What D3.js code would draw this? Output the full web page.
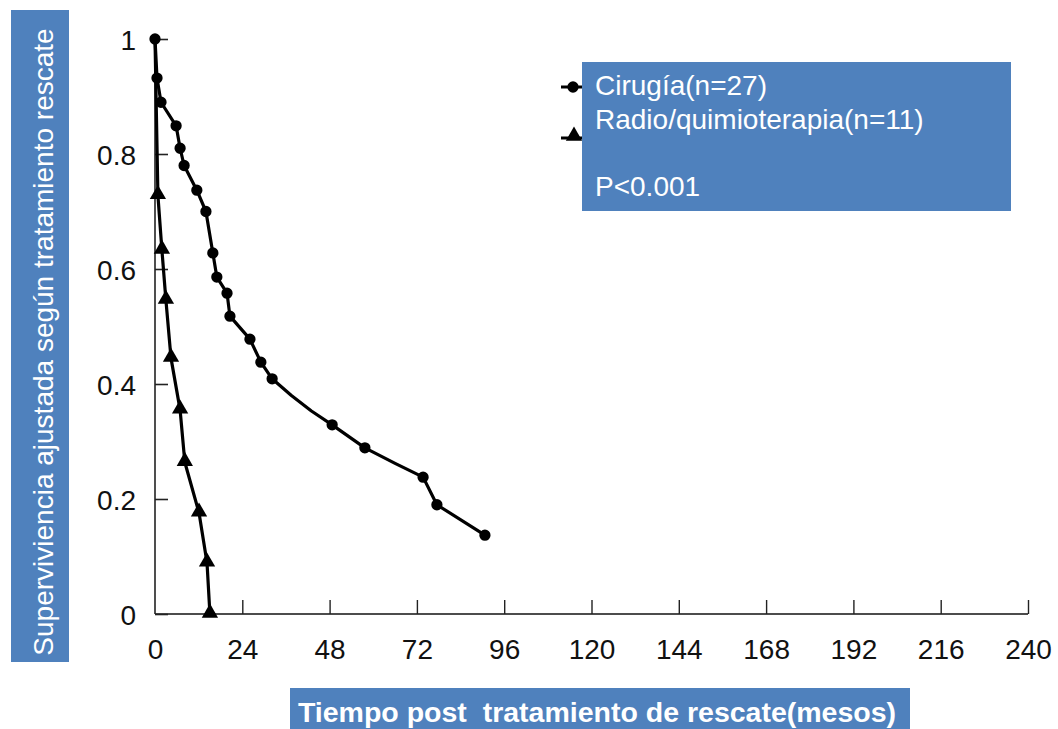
<!DOCTYPE html>
<html>
<head>
<meta charset="utf-8">
<script src="https://cdn.jsdelivr.net/npm/d3@7"></script>
<style>
  html, body { margin: 0; padding: 0; background: #fff; }
  svg { display: block; }
</style>
</head>
<body>
<svg id="chart" width="1058" height="729"></svg>
<script>
// Kaplan-Meier style survival curves after salvage treatment
const xTicks = [0, 24, 48, 72, 96, 120, 144, 168, 192, 216, 240];
const yTicks = [0, 0.2, 0.4, 0.6, 0.8, 1];
const yTickLabels = ["0", "0.2", "0.4", "0.6", "0.8", "1"];

// Cirugía: months, survival, marker shown
const cirugiaTime = [0, 0.55, 1.65, 5.8, 6.9, 8.0, 11.5, 14.0, 15.9, 17.0, 19.8, 20.6, 26.1, 29.1, 32.2, 37.5, 43.0, 48.7, 57.7, 66.0, 73.7, 77.5, 90.7];
const cirugiaSurv = [1, 0.932, 0.89, 0.849, 0.81, 0.78, 0.737, 0.70, 0.628, 0.586, 0.558, 0.518, 0.478, 0.438, 0.409, 0.38, 0.353, 0.329, 0.289, 0.262, 0.238, 0.19, 0.137];
const cirugiaMark = [1, 1, 1, 1, 1, 1, 1, 1, 1, 1, 1, 1, 1, 1, 1, 0, 0, 1, 1, 0, 1, 1, 1];

// Radio/quimioterapia
const radioTime = [0, 0.8, 1.9, 3.0, 4.4, 6.9, 8.2, 12.1, 14.3, 15.1];
const radioSurv = [1, 0.728, 0.633, 0.546, 0.445, 0.355, 0.264, 0.176, 0.089, 0];
const radioMark = [0, 1, 1, 1, 1, 1, 1, 1, 1, 1];

const legendLabels = ["Cirugía(n=27)", "Radio/quimioterapia(n=11)", "", "P<0.001"];
const yTitle = "Superviviencia ajustada según tratamiento rescate";
const xTitle = "Tiempo post  tratamiento de rescate(mesos)";

const blue = "#4f81bd";
const svg = d3.select("#chart");

const x = d3.scaleLinear().domain([0, 240]).range([155, 1028]);
const y = d3.scaleLinear().domain([0, 1]).range([614, 39]);

const axisFont = "'Liberation Sans', Arial, sans-serif";

// Axes frame
const g = svg.append("g");
g.append("line").attr("x1", x(0)).attr("x2", x(240)).attr("y1", y(0)).attr("y2", y(0))
  .attr("stroke", "#111").attr("stroke-width", 1.6);
g.append("line").attr("x1", x(0)).attr("x2", x(0)).attr("y1", y(0)).attr("y2", y(1))
  .attr("stroke", "#222").attr("stroke-width", 1.6);

// x ticks (pointing up into plot)
const xAxis = d3.axisBottom(x).tickValues(xTicks).tickSize(0).tickFormat(d3.format("d"));
const xg = svg.append("g").attr("transform", `translate(0,${y(0)})`).call(xAxis);
xg.select(".domain").remove();
xg.selectAll("text").attr("dy", 0).attr("y", 45)
  .attr("font-family", axisFont).attr("font-size", 28).attr("fill", "#111");
xg.selectAll(".tick").filter(d => d > 0).append("line")
  .attr("y1", 0).attr("y2", -14).attr("stroke", "#222").attr("stroke-width", 1.4);

// y ticks (pointing right into plot)
const yAxis = d3.axisLeft(y).tickValues(yTicks).tickSize(0)
  .tickFormat((d, i) => yTickLabels[i]);
const yg = svg.append("g").attr("transform", `translate(${x(0)},0)`).call(yAxis);
yg.select(".domain").remove();
yg.selectAll("text").attr("x", -19).attr("dy", "0.36em")
  .attr("font-family", axisFont).attr("font-size", 28).attr("fill", "#111");
yg.selectAll(".tick").append("line")
  .attr("x1", 0).attr("x2", 13).attr("stroke", "#222").attr("stroke-width", 1.6);

// Curves
const line = d3.line().x(d => x(d[0])).y(d => y(d[1]));
const cirugia = cirugiaTime.map((t, i) => [t, cirugiaSurv[i], cirugiaMark[i]]);
const radio = radioTime.map((t, i) => [t, radioSurv[i], radioMark[i]]);

svg.append("path").datum(cirugia).attr("d", line)
  .attr("fill", "none").attr("stroke", "#000").attr("stroke-width", 3.2).attr("stroke-linejoin", "round");
svg.append("path").datum(radio).attr("d", line)
  .attr("fill", "none").attr("stroke", "#000").attr("stroke-width", 3.2).attr("stroke-linejoin", "round");

const circle = d3.symbol().type(d3.symbolCircle).size(100);
const tri = d3.symbol().type(d3.symbolTriangle).size(115);

svg.append("g").selectAll("path").data(cirugia.filter(d => d[2])).join("path")
  .attr("d", circle).attr("transform", d => `translate(${x(d[0])},${y(d[1])})`).attr("fill", "#000");
svg.append("g").selectAll("path").data(radio.filter(d => d[2])).join("path")
  .attr("d", tri).attr("transform", d => `translate(${x(d[0])},${y(d[1]) - 1})`).attr("fill", "#000");

// Legend glyphs (partially covered by the legend box)
svg.append("line").attr("x1", 561).attr("x2", 585).attr("y1", 87).attr("y2", 87)
  .attr("stroke", "#000").attr("stroke-width", 3);
svg.append("path").attr("d", circle).attr("transform", "translate(573,87)").attr("fill", "#000");
svg.append("line").attr("x1", 561).attr("x2", 585).attr("y1", 138).attr("y2", 138)
  .attr("stroke", "#000").attr("stroke-width", 3);
svg.append("path").attr("d", tri).attr("transform", "translate(574,136)").attr("fill", "#000");

// Legend box
svg.append("rect").attr("x", 582).attr("y", 62).attr("width", 429).attr("height", 149).attr("fill", blue);
svg.append("g").selectAll("text").data(legendLabels).join("text")
  .attr("x", 595).attr("y", (d, i) => 95 + i * 33.7)
  .attr("font-family", axisFont).attr("font-size", 28).attr("fill", "#fff")
  .text(d => d);

// y-axis title box
svg.append("rect").attr("x", 11).attr("y", 10).attr("width", 58).attr("height", 652).attr("fill", blue);
svg.append("text").attr("transform", "translate(53,342) rotate(-90)")
  .attr("text-anchor", "middle").attr("font-family", axisFont).attr("font-size", 28)
  .attr("fill", "#fff").text(yTitle);

// x-axis title box
svg.append("rect").attr("x", 290).attr("y", 688).attr("width", 620).attr("height", 41).attr("fill", blue);
svg.append("text").attr("x", 597).attr("y", 722)
  .attr("text-anchor", "middle").attr("font-family", axisFont).attr("font-size", 28.5)
  .attr("font-weight", "bold").attr("fill", "#fff").attr("xml:space", "preserve")
  .style("white-space", "pre").text(xTitle);
</script>
</body>
</html>
